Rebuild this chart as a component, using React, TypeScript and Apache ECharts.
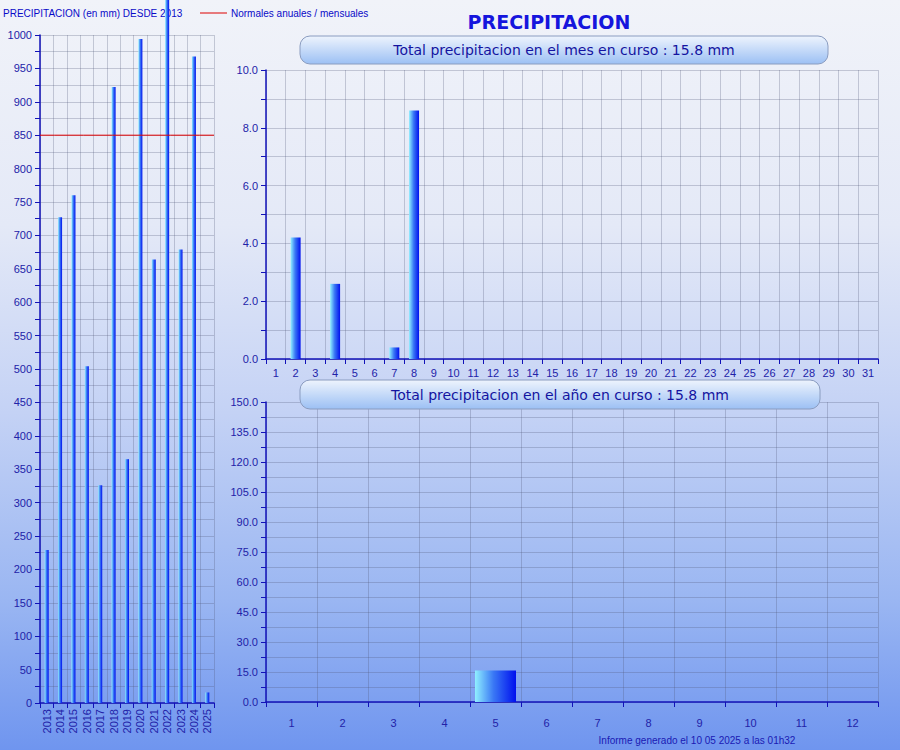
import React, { useEffect, useRef } from "react";
import * as echarts from "echarts";

const years = ["2013", "2014", "2015", "2016", "2017", "2018", "2019", "2020", "2021", "2022", "2023", "2024", "2025"];
const annualTotals = [229, 727, 760, 504, 326, 922, 365, 994, 664, 1075, 679, 968, 15.8];
const annualNormal = [850, 850, 850, 850, 850, 850, 850, 850, 850, 850, 850, 850, 850];

const days = ["1", "2", "3", "4", "5", "6", "7", "8", "9", "10", "11", "12", "13", "14", "15", "16", "17", "18", "19", "20", "21", "22", "23", "24", "25", "26", "27", "28", "29", "30", "31"];
const dailyRain = [0, 4.2, 0, 2.6, 0, 0, 0.4, 8.6, 0, null, null, null, null, null, null, null, null, null, null, null, null, null, null, null, null, null, null, null, null, null, null];

const months = ["1", "2", "3", "4", "5", "6", "7", "8", "9", "10", "11", "12"];
const monthlyRain = [0, 0, 0, 0, 15.8, null, null, null, null, null, null, null];

const mainTitle = "PRECIPITACION";
const monthTitle = "Total precipitacion en el mes en curso : 15.8 mm";
const yearTitle = "Total precipitacion en el año en curso : 15.8 mm";
const legendLeft = "PRECIPITACION (en mm) DESDE 2013";
const legendRight = "Normales anuales / mensuales";
const footer = "Informe generado el 10 05 2025 a las 01h32";

const AXIS = "#1212b8";
const LABEL = "#2222a8";
const GRIDLINE = "rgba(80,85,120,0.28)";
const FONT = "'Liberation Sans', Arial, sans-serif";
const COMIC = "'Comic Sans MS', 'DejaVu Sans', sans-serif";

function barGrad() {
  return new echarts.graphic.LinearGradient(0, 0, 1, 0, [
    { offset: 0, color: "#90f0ff" },
    { offset: 0.45, color: "#3a78f5" },
    { offset: 1, color: "#0010ee" },
  ]);
}

function catAxis(gridIndex: number, data: string[], extra: any = {}) {
  return {
    type: "category",
    gridIndex,
    data,
    boundaryGap: true,
    axisLine: { show: true, lineStyle: { color: AXIS, width: 1.5 } },
    axisTick: { show: true, alignWithLabel: false, length: 5, lineStyle: { color: AXIS } },
    axisLabel: { color: LABEL, fontFamily: FONT, fontSize: 11, margin: 8, interval: 0, ...(extra.axisLabel || {}) },
    splitLine: { show: true, interval: 0, lineStyle: { color: GRIDLINE, width: 1 } },
  };
}

function valAxis(gridIndex: number, max: number, interval: number, labelEvery: number, decimals: number) {
  return {
    type: "value",
    gridIndex,
    min: 0,
    max,
    interval,
    axisLine: { show: true, lineStyle: { color: AXIS, width: 1.5 } },
    axisTick: { show: true, length: 5, lineStyle: { color: AXIS } },
    axisLabel: {
      color: LABEL,
      fontFamily: FONT,
      fontSize: 11,
      margin: 8,
      formatter: (v: number) => {
        const r = v / labelEvery;
        if (Math.abs(r - Math.round(r)) > 1e-6) return "";
        return v.toFixed(decimals);
      },
    },
    splitLine: { show: true, lineStyle: { color: GRIDLINE, width: 1 } },
  };
}

function titleBox(x: number, y: number, w: number, h: number, text: string) {
  return {
    type: "group",
    children: [
      {
        type: "rect",
        shape: { x, y, width: w, height: h, r: 10 },
        style: {
          fill: new echarts.graphic.LinearGradient(0, 0, 0, 1, [
            { offset: 0, color: "#eef4fd" },
            { offset: 1, color: "#9cc0f4" },
          ]),
          stroke: "#8a9cc0",
          lineWidth: 1,
        },
        z: 10,
      },
      {
        type: "text",
        x: x + w / 2,
        y: y + h / 2,
        style: {
          text,
          fill: "#1414a0",
          font: `14px ${COMIC}`,
          align: "center",
          verticalAlign: "middle",
        },
        z: 11,
      },
    ],
  };
}

export default function App() {
  const ref = useRef<HTMLDivElement>(null);

  useEffect(() => {
    if (!ref.current) return;
    const chart = echarts.init(ref.current, null, { renderer: "svg" });
    const option: any = {
      animation: false,
      backgroundColor: "transparent",
      grid: [
        { left: 40, top: 35, width: 174, height: 668, containLabel: false },
        { left: 266, top: 70, width: 612, height: 289, containLabel: false },
        { left: 266, top: 402, width: 612, height: 300, containLabel: false },
      ],
      xAxis: [
        catAxis(0, years, { axisLabel: { rotate: 90, margin: 6 } }),
        catAxis(1, days),
        catAxis(2, months, { axisLabel: { margin: 15 } }),
        { type: "category", gridIndex: 0, data: years, boundaryGap: false, show: false },
      ],
      yAxis: [
        valAxis(0, 1000, 25, 50, 0),
        valAxis(1, 10, 1, 2, 1),
        valAxis(2, 150, 7.5, 15, 1),
      ],
      series: [
        {
          type: "bar",
          xAxisIndex: 0,
          yAxisIndex: 0,
          data: annualTotals,
          barWidth: 4,
          clip: false,
          itemStyle: { color: barGrad() },
          z: 3,
        },
        {
          type: "line",
          name: "normal",
          xAxisIndex: 3,
          yAxisIndex: 0,
          data: annualNormal,
          showSymbol: false,
          symbol: "none",
          silent: true,
          lineStyle: { color: "#e00000", width: 1 },
          itemStyle: { color: "#e00000" },
          z: 4,
        },
        {
          type: "bar",
          xAxisIndex: 1,
          yAxisIndex: 1,
          data: dailyRain,
          barWidth: 10,
          itemStyle: { color: barGrad() },
        },
        {
          type: "bar",
          xAxisIndex: 2,
          yAxisIndex: 2,
          data: monthlyRain,
          barWidth: 41,
          itemStyle: { color: barGrad() },
        },
      ],
      graphic: [
        {
          type: "text",
          x: 549,
          y: 22,
          style: {
            text: mainTitle,
            fill: "#1515dd",
            font: `bold 19px ${COMIC}`,
            align: "center",
            verticalAlign: "middle",
          },
        },
        {
          type: "text",
          x: 3,
          y: 13,
          style: { text: legendLeft, fill: "#0a0ac8", font: `10px ${FONT}`, align: "left", verticalAlign: "middle" },
        },
        {
          type: "line",
          shape: { x1: 200, y1: 13, x2: 227, y2: 13 },
          style: { stroke: "#dd0000", lineWidth: 1 },
        },
        {
          type: "text",
          x: 231,
          y: 13,
          style: { text: legendRight, fill: "#0a0ac8", font: `10px ${FONT}`, align: "left", verticalAlign: "middle" },
        },
        titleBox(300, 36, 528, 28, monthTitle),
        titleBox(300, 380, 520, 29, yearTitle),
        {
          type: "text",
          x: 697,
          y: 740,
          style: { text: footer, fill: "#1a1ab4", font: `10px ${FONT}`, align: "center", verticalAlign: "middle" },
        },
      ],
    };
    chart.setOption(option);
    return () => chart.dispose();
  }, []);

  return (
    <div
      ref={ref}
      style={{
        position: "absolute",
        left: 0,
        top: 0,
        width: 900,
        height: 750,
        background: "linear-gradient(180deg, #f1f3f9 0%, #e4e9f7 30%, #c4d2f5 55%, #9ab6f2 80%, #6f95ef 100%)",
      }}
    />
  );
}
